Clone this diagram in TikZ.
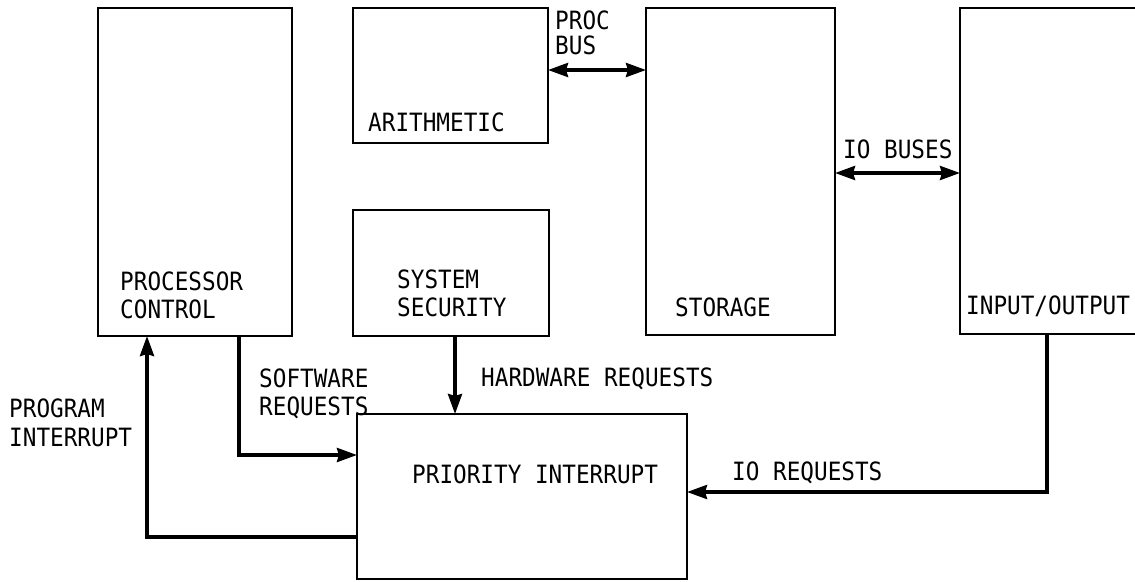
\documentclass[tikz,border=0pt]{standalone}
\usepackage{fontspec}
\setmonofont[FakeStretch=0.9]{DejaVu Sans Mono}
\usetikzlibrary{arrows.meta}
\tikzset{
  box/.style={draw, line width=2pt, inner sep=0pt, outer sep=0pt, rectangle},
  lbl/.style={anchor=base west, inner sep=0pt, font=\ttfamily\fontsize{25.2}{30}\selectfont},
  arr/.style={line width=3.5pt, -{Stealth[length=20pt,width=14pt,inset=2pt]}},
  darr/.style={line width=3.5pt, {Stealth[length=20pt,width=14pt,inset=2pt]}-{Stealth[length=20pt,width=14pt,inset=2pt]}}
}
\begin{document}
\begin{tikzpicture}[x=1pt,y=-1pt]
\useasboundingbox (0,0) rectangle (1135,581);
% boxes
\node[box, minimum width=194pt, minimum height=328pt] (pc) at (195,172) {};
\node[box, minimum width=195pt, minimum height=135pt] (arith) at (450.5,75.5) {};
\node[box, minimum width=196pt, minimum height=126pt] (sec) at (451,273) {};
\node[box, minimum width=189pt, minimum height=327pt] (stor) at (740.5,171.5) {};
\node[box, minimum width=185pt, minimum height=326pt] (io) at (1052.5,171) {};
\node[box, minimum width=330pt, minimum height=165pt] (pi) at (522,496.5) {};
% box texts
\node[lbl] (pct1) at (120,290) {PROCESSOR};
\node[lbl] (pct2) at (120,318) {CONTROL};
\node[lbl] (art) at (368,131) {ARITHMETIC};
\node[lbl] (sect1) at (397,288) {SYSTEM};
\node[lbl] (sect2) at (397,316) {SECURITY};
\node[lbl] (stort) at (675,316) {STORAGE};
\node[lbl] (iot) at (966,314) {INPUT/OUTPUT};
\node[lbl] (pit) at (412,483) {PRIORITY INTERRUPT};
% connector labels
\node[lbl] (pb1) at (555,29) {PROC};
\node[lbl] (pb2) at (555,54) {BUS};
\node[lbl] (ibt) at (843,158) {IO BUSES};
\node[lbl] (swt1) at (259,387) {SOFTWARE};
\node[lbl] (swt2) at (259,415) {REQUESTS};
\node[lbl] (hwt) at (481,386) {HARDWARE REQUESTS};
\node[lbl] (pit1) at (9,417) {PROGRAM};
\node[lbl] (pit2) at (9,446) {INTERRUPT};
\node[lbl] (irt) at (732,480) {IO REQUESTS};
% connector guide coordinates
\coordinate (pbx) at (0,70);
\coordinate (ibx) at (0,173);
\coordinate (swx) at (239,455);
\coordinate (pix) at (147,537);
\coordinate (hwx) at (455,0);
\coordinate (irx) at (1047,492);
% connectors
\draw[darr] (arith.east |- pbx) -- (stor.west |- pbx);
\draw[darr] (stor.east |- ibx) -- (io.west |- ibx);
\draw[arr] (pc.south -| swx) |- (pi.west |- swx);
\draw[arr] (pi.west |- pix) -| (pc.south -| pix);
\draw[arr] (sec.south -| hwx) -- (pi.north -| hwx);
\draw[arr] (io.south -| irx) |- (pi.east |- irx);
\end{tikzpicture}
\end{document}
